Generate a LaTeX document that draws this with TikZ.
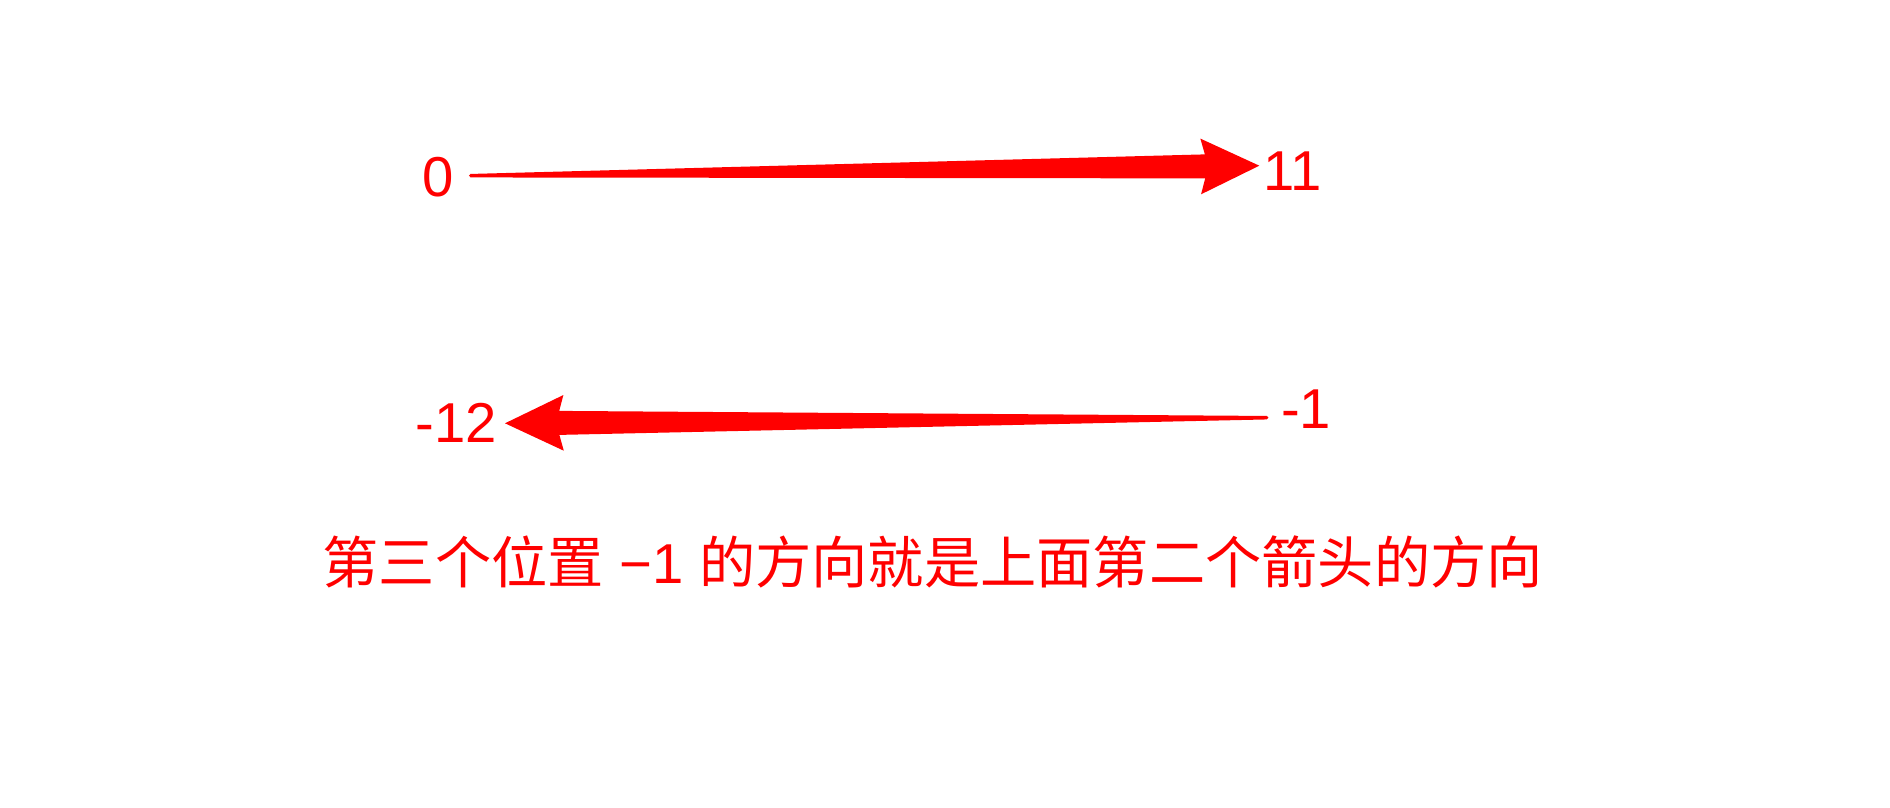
\documentclass[tikz,border=0pt]{standalone}
\usepackage{fontspec}
\setmainfont{Liberation Sans}
\newfontfamily\cjk{Noto Sans CJK SC}
\usepackage{xcolor}
\usetikzlibrary{calc}
\definecolor{arrowred}{RGB}{255,0,0}

% tapered arrow from a tail coordinate to a tip coordinate
\newcommand{\taperarrow}[2]{%
	\coordinate (#1-n) at ($(#2)!5.43mm!(#1)$);
	\coordinate (#1-b) at ($(#2)!5.86mm!(#1)$);
	\fill[arrowred] ($(#1)!0.175mm!90:(#2)$)
		-- ($(#1-n)!1.2mm!90:(#2)$) -- ($(#1-b)!2.785mm!90:(#2)$)
		-- (#2)
		-- ($(#1-b)!2.785mm!-90:(#2)$) -- ($(#1-n)!1.2mm!-90:(#2)$)
		-- ($(#1)!0.175mm!-90:(#2)$) -- cycle;
	\fill[arrowred] (#1) circle (0.175mm);
}

\begin{document}
\begin{tikzpicture}[x=0.1mm,y=-0.1mm,
	every node/.style={inner sep=0pt,text=arrowred,font=\fontsize{16pt}{19pt}\selectfont}]
	\useasboundingbox (0,0) rectangle (1890,808);
	\node at (438.5,176.7) (1) {0};
	\node at (1293,171) (2) {11};
	\node at (456.5,423) (3) {-12};
	\node at (1306,409) (4) {-1};
	\coordinate (t1) at (470.7,175.7);
	\coordinate (h1) at (1259.3,165.7);
	\coordinate (t2) at (1266.7,417.7);
	\coordinate (h2) at (505,423.3);
	\taperarrow{t1}{h1}
	\taperarrow{t2}{h2}
	\node at (932.7,562.4) (5) {{\cjk 第三个位置} −1 {\cjk 的方向就是上面第二个箭头的方向}};
\end{tikzpicture}
\end{document}
